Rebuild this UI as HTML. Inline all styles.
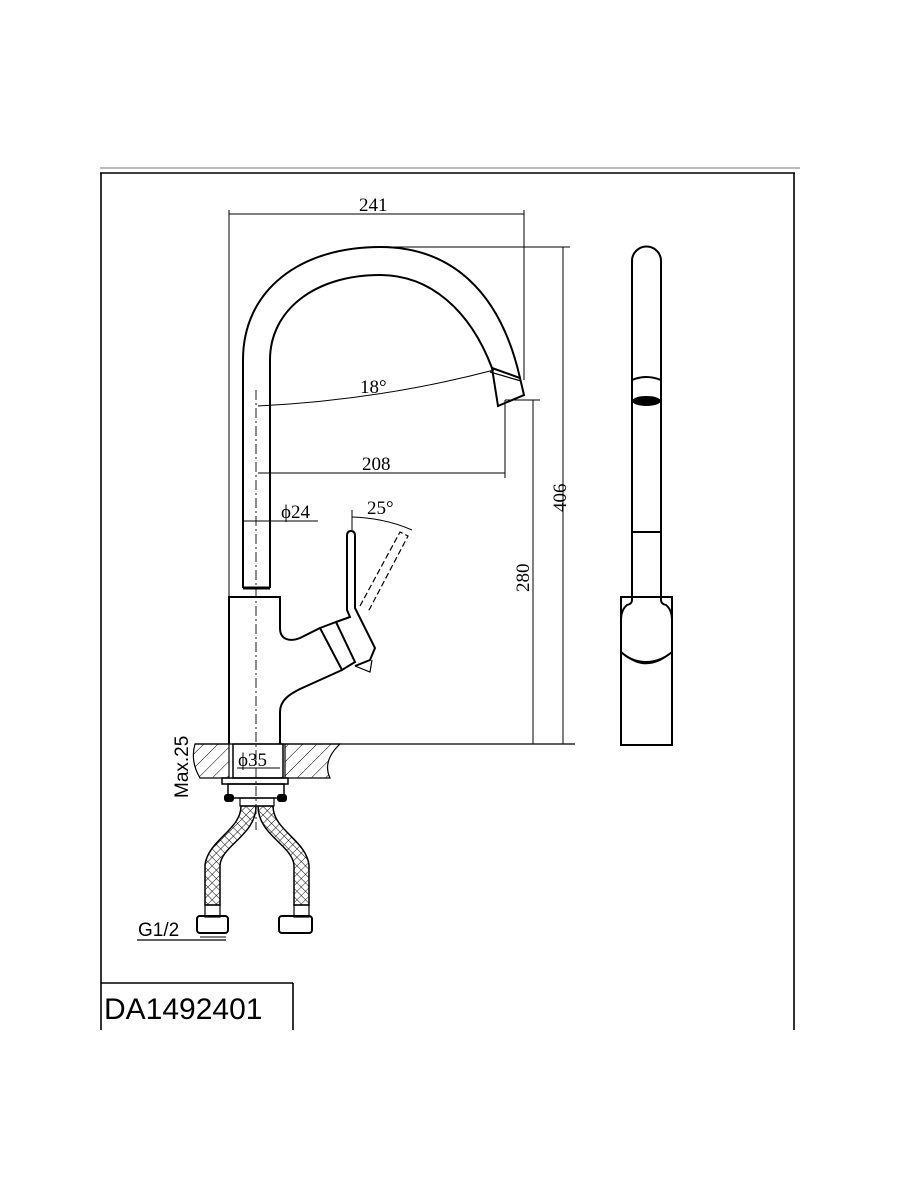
<!DOCTYPE html>
<html><head><meta charset="utf-8"><style>
html,body{margin:0;padding:0;background:#fff;}
svg{display:block;}
text{font-family:"Liberation Serif",serif;fill:#000;}
</style></head><body>
<svg width="900" height="1200" viewBox="0 0 900 1200" xmlns="http://www.w3.org/2000/svg">
<defs>
<pattern id="hatch" width="10" height="10" patternUnits="userSpaceOnUse" patternTransform="rotate(45)">
<line x1="0" y1="0" x2="0" y2="10" stroke="#000" stroke-width="1"/></pattern>
<pattern id="mesh" width="6" height="6" patternUnits="userSpaceOnUse" patternTransform="rotate(45)">
<path d="M0 0H6M0 0V6" stroke="#000" stroke-width="0.9" fill="none"/></pattern>
</defs>
<line x1="100" y1="168" x2="800" y2="168" stroke="#bbb" stroke-width="2"/>
<g stroke="#000" stroke-width="1.6" fill="none">
<line x1="100" y1="173" x2="795" y2="173"/>
<line x1="101" y1="173" x2="101" y2="1030"/>
<line x1="794" y1="173" x2="794" y2="1030"/>
<line x1="101" y1="983" x2="293" y2="983"/>
<line x1="293" y1="983" x2="293" y2="1030"/>
</g>
<text x="104" y="1019" font-size="30" style="font-family:'Liberation Sans',sans-serif">DA1492401</text>

<g stroke="#000" fill="none" stroke-width="2">
<path d="M243 588 V360 C243 290 300 247 380 247 C450 247 500 290 520 378"/>
<path d="M270 588 V360 C270 310 315 275 380 275 C430 275 470 310 492 368"/>
<path d="M492 368 L520 378 L524 395 L498 406 Z"/>
<line x1="490" y1="372" x2="521" y2="381" stroke-width="1.2"/>
<line x1="243" y1="588" x2="270" y2="588" stroke-width="3"/>
<path d="M229 744 V597 H280 V628 C280 640 290 642 300 638 L320 628"/>
<path d="M280 744 V712 C280 700 290 694 300 689 L342 670"/>
<path d="M320 628 L336 622 L355 662 L342 670 Z"/>
<path d="M336 622 L350 617 L347 610 V536 Q347 531 351 531 Q355 531 355 536 V608 L375 648 L370 660 L355 666"/>
<path d="M355 666 L370 672 L372 660" stroke-width="1.2"/>
<path d="M360 606 L400 532 L408 536 L368 612" stroke-dasharray="6 3" stroke-width="1.2"/>
<line x1="256" y1="390" x2="256" y2="830" stroke-width="0.9" stroke-dasharray="10 3 2 3"/>
<line x1="195" y1="744" x2="575" y2="744" stroke-width="1.2"/>
<path d="M195 744 H229 V778 H200 Q190 761 195 744 Z" fill="url(#hatch)" stroke-width="1.2"/>
<path d="M285 744 H340 Q322 761 330 778 H285 Z" fill="url(#hatch)" stroke-width="1.2"/>
<rect x="233" y="744" width="50" height="34" stroke-width="1.5"/>
<rect x="222" y="778" width="66" height="6" stroke-width="1.5"/>
<rect x="228" y="784" width="56" height="14" stroke-width="1.5"/>
<rect x="225" y="795" width="8" height="6" rx="2" fill="#000"/>
<rect x="278" y="795" width="8" height="6" rx="2" fill="#000"/>
<rect x="240" y="798" width="34" height="8" stroke-width="1.2"/>
<path d="M241 806 C241 830 208 840 205 865 V905 H220 V865 C222 845 256 835 256 806 Z" fill="url(#mesh)" stroke-width="1.5"/>
<path d="M258 806 C258 835 292 845 294 865 V905 H309 V865 C306 840 273 830 273 806 Z" fill="url(#mesh)" stroke-width="1.5"/>
<rect x="205" y="905" width="15" height="12" stroke-width="1.2"/>
<rect x="294" y="905" width="15" height="12" stroke-width="1.2"/>
<rect x="197" y="916" width="31" height="17" rx="3" stroke-width="2"/>
<rect x="279" y="916" width="33" height="17" rx="3" stroke-width="2"/>
<line x1="137" y1="940" x2="226" y2="940" stroke-width="1.2"/>
<g stroke-width="1">
<line x1="229" y1="210" x2="229" y2="597"/>
<line x1="524" y1="210" x2="524" y2="380"/>
<line x1="229" y1="214" x2="524" y2="214"/>
<line x1="380" y1="247" x2="570" y2="247"/>
<line x1="563" y1="247" x2="563" y2="744"/>
<line x1="505" y1="400" x2="540" y2="400"/>
<line x1="533" y1="400" x2="533" y2="744"/>
<line x1="505" y1="400" x2="505" y2="478"/>
<line x1="258" y1="473" x2="505" y2="473"/>
<path d="M258 406 Q380 400 494 370"/>
<line x1="243" y1="521" x2="318" y2="521"/>
<path d="M352 517 Q385 518 412 530"/>
<line x1="352" y1="510" x2="352" y2="530"/>
<line x1="237" y1="768" x2="280" y2="768"/>
<line x1="200" y1="937" x2="226" y2="937"/>
</g>
</g>
<g font-size="19">
<text x="359" y="211">241</text>
<text x="362" y="470">208</text>
<text x="360" y="393">18°</text>
<text x="281" y="518">ϕ24</text>
<text x="367" y="514">25°</text>
<text x="238" y="766">ϕ35</text>
<text transform="translate(566,512) rotate(-90)">406</text>
<text transform="translate(529,592) rotate(-90)">280</text>
</g>
<text transform="translate(188,798) rotate(-90)" font-size="19" style="font-family:'Liberation Sans',sans-serif">Max.25</text>
<text x="138" y="936" font-size="19" style="font-family:'Liberation Sans',sans-serif">G1/2</text>

<g stroke="#000" fill="none" stroke-width="2">
<path d="M632 532 V261 A14.5 14.5 0 0 1 661 261 V532"/>
<path d="M632 380 Q646 374 661 380"/>
<ellipse cx="646.5" cy="401" rx="13" ry="4" fill="#000"/>
<path d="M632 532 H661 V600 Q661 604 666 605 Q672 610 672 620 V652 Q660 662 646 662 Q632 662 621 652 V620 Q621 610 627 605 Q632 604 632 600 Z"/>
<path d="M621 597 V745 H672 V597 Z"/>
<path d="M621 652 Q646 675 672 652" stroke-width="1.5"/>
</g>
</svg>
</body></html>
